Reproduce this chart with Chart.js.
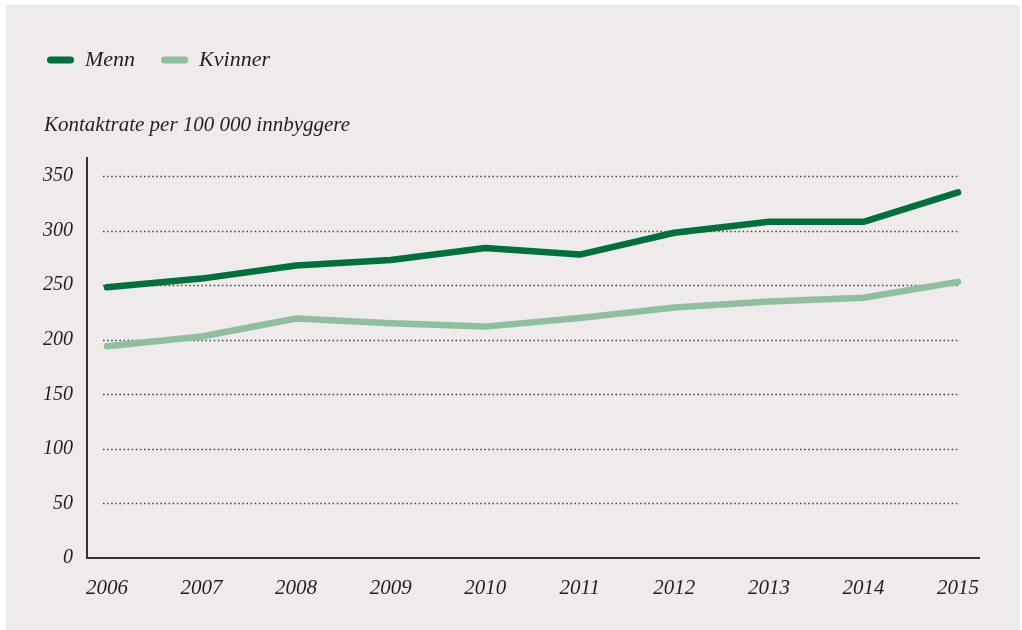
<!DOCTYPE html>
<html>
<head>
<meta charset="utf-8">
<script src="https://cdn.jsdelivr.net/npm/chart.js@4"></script>
<style>
  html, body { margin: 0; padding: 0; background: #ffffff; }
  #wrap { position: absolute; left: 6px; top: 5px; width: 1014px; height: 625px; background: #efebea; }
</style>
</head>
<body>
<div id="wrap"><canvas id="chart" width="1014" height="625"></canvas></div>
<script>
// years and rates (contacts per 100 000 inhabitants)
const YEARS = [2006, 2007, 2008, 2009, 2010, 2011, 2012, 2013, 2014, 2015];
const MENN = [248, 256, 268, 273, 284, 278, 298, 308, 308, 335];
const KVINNER = [194, 203, 219.5, 215, 212, 220, 229.5, 235, 238.5, 253];
const Y_TICKS = [0, 50, 100, 150, 200, 250, 300, 350];

const SERIES_NAMES = ["Menn", "Kvinner"];
const SERIES_COLORS = ["#00703c", "#8fbf9e"];
const SUBTITLE = "Kontaktrate per 100 000 innbyggere";

const FONT = "'Liberation Serif', serif";
const TEXT = "#231f20";

// legend needs room below it for the subtitle line
const legendSpace = {
  id: "legendSpace",
  beforeInit(chart) {
    const fit = chart.legend.fit;
    chart.legend.fit = function () {
      fit.bind(chart.legend)();
      this.height += 77;
    };
  }
};

// dotted horizontal guides, inset from the axes like the original
const dottedGrid = {
  id: "dottedGrid",
  beforeDatasetsDraw(chart) {
    const { ctx, chartArea, scales: { y } } = chart;
    ctx.save();
    ctx.strokeStyle = "#444";
    ctx.lineWidth = 1.5;
    ctx.setLineDash([1.5, 2.6]);
    Y_TICKS.filter(v => v > 0).forEach(v => {
      const py = Math.round(y.getPixelForValue(v)) + 0.5;
      ctx.beginPath();
      ctx.moveTo(chartArea.left + 16, py);
      ctx.lineTo(chartArea.right - 19, py);
      ctx.stroke();
    });
    ctx.restore();
  }
};

// subtitle above the plot, left of the y axis
const subtitle = {
  id: "subtitleText",
  afterDraw(chart) {
    const { ctx, chartArea } = chart;
    ctx.save();
    ctx.font = "italic 21px " + FONT;
    ctx.fillStyle = TEXT;
    ctx.textBaseline = "alphabetic";
    ctx.textAlign = "left";
    ctx.fillText(SUBTITLE, chartArea.left - 43, chartArea.top - 27);
    ctx.restore();
  }
};

const ctx = document.getElementById("chart").getContext("2d");
const chart = new Chart(ctx, {
  type: "line",
  data: {
    datasets: [MENN, KVINNER].map((vals, i) => ({
      label: SERIES_NAMES[i],
      data: vals.map((v, j) => ({ x: YEARS[j], y: v })),
      borderColor: SERIES_COLORS[i],
      backgroundColor: SERIES_COLORS[i],
      borderWidth: 6.5,
      borderCapStyle: "round",
      borderJoinStyle: "round",
      pointRadius: 0,
      tension: 0,
      fill: false
    }))
  },
  options: {
    responsive: false,
    animation: false,
    layout: { padding: { left: 15, top: 18, right: 41, bottom: 0 } },
    plugins: {
      tooltip: { enabled: false },
      legend: {
        position: "top",
        align: "start",
        labels: {
          boxWidth: 27,
          boxHeight: 7,
          padding: 26,
          color: TEXT,
          font: { family: FONT, size: 22, style: "italic" },
          generateLabels(c) {
            return c.data.datasets.map((ds, i) => ({
              text: ds.label,
              fillStyle: ds.borderColor,
              strokeStyle: ds.borderColor,
              lineWidth: 0,
              borderRadius: 3.5,
              fontColor: TEXT,
              datasetIndex: i
            }));
          }
        }
      }
    },
    scales: {
      x: {
        type: "linear",
        min: 2005.7885,
        max: 2015.2217,
        grid: { display: false, drawTicks: false },
        border: { display: true, color: "#333", width: 2 },
        afterBuildTicks(s) { s.ticks = YEARS.map(v => ({ value: v })); },
        afterFit(s) { s.height = 72; },
        ticks: {
          padding: 18,
          color: TEXT,
          font: { family: FONT, size: 21, style: "italic" },
          callback: v => String(v)
        }
      },
      y: {
        min: 0,
        max: 366.5,
        grid: { display: false, drawTicks: false },
        border: { display: true, color: "#333", width: 2 },
        afterBuildTicks(s) { s.ticks = Y_TICKS.map(v => ({ value: v })); },
        afterFit(s) { s.width = 66; },
        ticks: {
          padding: 14,
          color: TEXT,
          font: { family: FONT, size: 20, style: "italic" },
          callback: v => String(v)
        }
      }
    }
  },
  plugins: [legendSpace, dottedGrid, subtitle]
});
</script>
</body>
</html>
